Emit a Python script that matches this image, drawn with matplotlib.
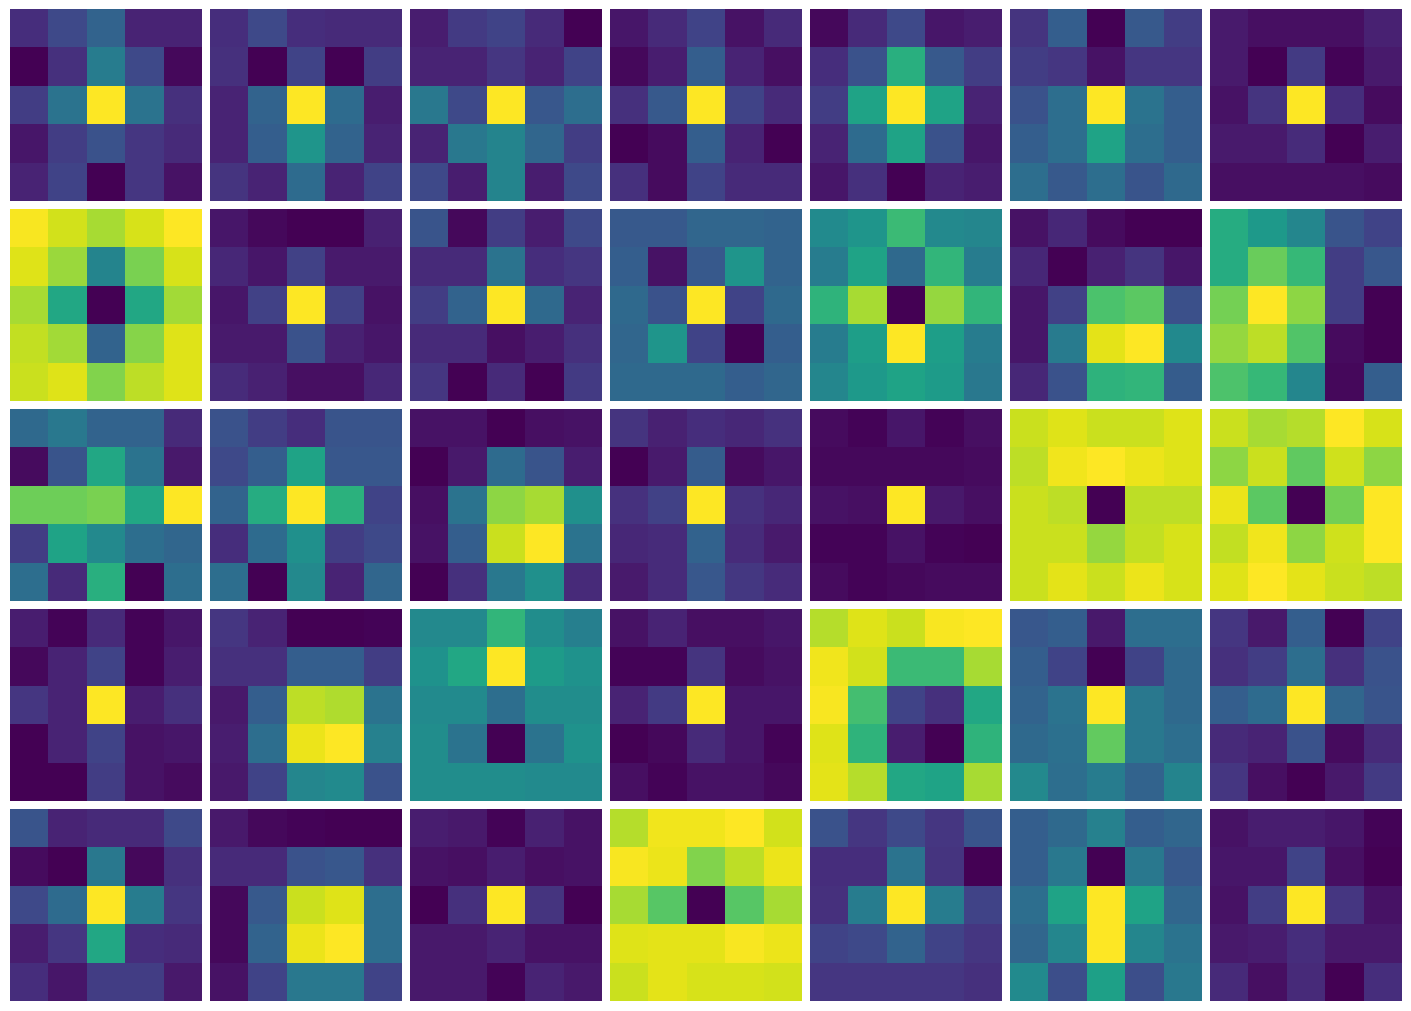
import matplotlib
matplotlib.use("Agg")
import matplotlib.pyplot as plt
import numpy as np

# Values, one list per row of panels (7 panels of 5x5)
row1 = [
    [[.13, .22, .32, .10, .10], [.00, .14, .42, .22, .02], [.18, .38, 1, .38, .14], [.06, .18, .25, .16, .12], [.10, .20, 0, .16, .05]],
    [[.13, .22, .13, .12, .12], [.14, 0, .20, 0, .18], [.10, .32, 1, .35, .08], [.10, .30, .52, .32, .10], [.15, .10, .35, .10, .20]],
    [[.08, .17, .20, .12, 0], [.10, .10, .16, .10, .20], [.40, .22, 1, .27, .36], [.10, .40, .45, .33, .18], [.22, .08, .45, .08, .22]],
    [[.06, .12, .20, .05, .12], [.02, .08, .30, .10, .04], [.14, .28, 1, .20, .12], [0, .03, .30, .10, 0], [.14, .03, .20, .12, .12]],
    [[.02, .12, .22, .06, .08], [.13, .25, .63, .28, .18], [.18, .58, 1, .58, .10], [.10, .35, .58, .25, .06], [.06, .14, 0, .10, .08]],
    [[.15, .30, 0, .28, .18], [.18, .16, .05, .16, .16], [.25, .36, 1, .38, .30], [.30, .36, .58, .36, .30], [.36, .28, .36, .26, .34]],
    [[.08, .05, .05, .05, .10], [.08, .01, .18, .02, .08], [.06, .16, 1, .14, .04], [.08, .08, .13, .01, .09], [.05, .05, .05, .05, .04]],
]
row2 = [
    [[.99, .93, .87, .94, 1], [.95, .85, .45, .80, .94], [.87, .60, 0, .60, .86], [.91, .86, .32, .82, .95], [.92, .95, .81, .90, .95]],
    [[.07, .03, .01, .01, .10], [.12, .07, .20, .08, .08], [.07, .20, 1, .20, .06], [.08, .08, .26, .10, .07], [.13, .10, .05, .05, .12]],
    [[.26, .02, .18, .08, .22], [.12, .12, .38, .13, .16], [.18, .32, 1, .34, .10], [.12, .12, .04, .08, .14], [.16, 0, .12, 0, .17]],
    [[.28, .28, .33, .33, .32], [.30, .05, .28, .52, .32], [.34, .25, 1, .20, .34], [.33, .52, .20, 0, .30], [.34, .34, .34, .30, .33]],
    [[.48, .52, .68, .47, .46], [.42, .58, .34, .66, .42], [.65, .87, 0, .84, .66], [.42, .56, 1, .56, .42], [.46, .54, .58, .55, .40]],
    [[.06, .12, .04, .01, .01], [.12, .01, .10, .16, .07], [.07, .20, .72, .75, .25], [.07, .42, .96, 1, .48], [.12, .26, .65, .66, .30]],
    [[.62, .54, .46, .26, .20], [.62, .77, .67, .18, .27], [.79, 1, .83, .18, 0], [.84, .90, .73, .03, 0], [.72, .67, .46, .02, .30]],
]
row3 = [
    [[.34, .40, .32, .32, .12], [.03, .26, .60, .38, .07], [.78, .78, .80, .60, 1], [.18, .58, .47, .36, .33], [.36, .12, .63, 0, .36]],
    [[.25, .18, .13, .26, .26], [.22, .30, .58, .27, .27], [.32, .62, 1, .64, .20], [.13, .35, .50, .18, .22], [.36, 0, .47, .10, .33]],
    [[.05, .05, 0, .04, .05], [0, .07, .35, .26, .08], [.04, .38, .83, .87, .50], [.05, .30, .92, 1, .38], [0, .14, .40, .50, .12]],
    [[.16, .10, .14, .12, .15], [.01, .08, .30, .04, .07], [.15, .20, 1, .15, .12], [.12, .13, .32, .13, .08], [.08, .13, .28, .17, .13]],
    [[.03, .01, .06, .01, .04], [.02, .02, .02, .02, .03], [.05, .04, 1, .07, .04], [.01, .01, .05, .01, 0], [.03, .01, .02, .03, .03]],
    [[.92, .95, .92, .92, .95], [.90, .98, 1, .97, .95], [.92, .90, 0, .90, .90], [.92, .92, .84, .91, .94], [.92, .96, .92, .97, .94]],
    [[.91, .86, .88, .99, .93], [.82, .91, .75, .92, .82], [.96, .74, 0, .78, .99], [.90, .97, .82, .92, .99], [.94, .99, .95, .91, .89]],
]
row4 = [
    [[.08, .01, .12, .01, .06], [.02, .10, .20, .01, .08], [.16, .10, 1, .08, .14], [0, .10, .20, .05, .06], [0, 0, .18, .05, .03]],
    [[.16, .10, 0, 0, .01], [.14, .14, .30, .30, .18], [.07, .30, .90, .88, .38], [.08, .36, .97, 1, .44], [.07, .20, .46, .48, .25]],
    [[.47, .47, .66, .49, .43], [.51, .60, 1, .55, .51], [.48, .48, .36, .49, .49], [.49, .38, 0, .38, .51], [.49, .49, .49, .48, .48]],
    [[.05, .10, .04, .04, .06], [.01, .01, .15, .03, .05], [.10, .17, 1, .06, .06], [0, .02, .12, .06, .01], [.04, .01, .05, .05, .02]],
    [[.89, .95, .92, .99, 1], [.98, .93, .68, .68, .87], [.99, .70, .20, .14, .60], [.95, .65, .08, 0, .65], [.96, .89, .60, .58, .87]],
    [[.27, .30, .07, .36, .36], [.30, .20, 0, .20, .34], [.32, .38, 1, .40, .34], [.34, .37, .76, .40, .36], [.47, .36, .42, .32, .45]],
    [[.16, .07, .30, 0, .20], [.14, .18, .36, .14, .25], [.30, .35, 1, .33, .26], [.12, .10, .25, .03, .12], [.16, .04, 0, .07, .17]],
]
row5 = [
    [[.26, .10, .12, .12, .22], [.03, 0, .40, .02, .14], [.22, .35, 1, .42, .16], [.08, .16, .60, .13, .12], [.13, .06, .18, .18, .07]],
    [[.07, .02, .01, 0, 0], [.12, .12, .25, .27, .14], [.02, .28, .92, .95, .36], [.02, .32, .97, 1, .36], [.05, .20, .40, .40, .20]],
    [[.08, .07, .01, .09, .05], [.05, .04, .08, .04, .05], [0, .14, 1, .15, 0], [.07, .07, .10, .05, .05], [.07, .07, .01, .10, .07]],
    [[.89, .98, .98, 1, .93], [.99, .97, .81, .90, .97], [.87, .74, 0, .74, .87], [.95, .96, .96, .99, .97], [.92, .96, .94, .94, .93]],
    [[.25, .16, .22, .16, .26], [.13, .13, .38, .15, 0], [.14, .42, 1, .42, .20], [.20, .22, .32, .20, .16], [.16, .16, .16, .16, .14]],
    [[.30, .34, .44, .30, .33], [.30, .40, 0, .40, .28], [.36, .58, 1, .58, .33], [.33, .46, 1, .46, .38], [.48, .24, .57, .24, .40]],
    [[.05, .08, .08, .06, .01], [.06, .06, .20, .04, 0], [.05, .18, 1, .16, .05], [.07, .08, .13, .07, .07], [.12, .04, .12, 0, .13]],
]
rows = [row1, row2, row3, row4, row5]

# Make the plot
fig, axes = plt.subplots(5, 7, figsize=(14.11, 10.11), dpi=100)
for i, row in enumerate(rows):
    for j, panel in enumerate(row):
        ax = axes[i, j]
        ax.imshow(np.array(panel), cmap="viridis", aspect="auto", interpolation="nearest")
        ax.axis("off")

fig.subplots_adjust(left=10 / 1411, right=1402 / 1411, top=1 - 9 / 1011, bottom=1 - 1001 / 1011,
                    wspace=8 / 192, hspace=8 / 192)
fig.savefig("out.png", dpi=100)
